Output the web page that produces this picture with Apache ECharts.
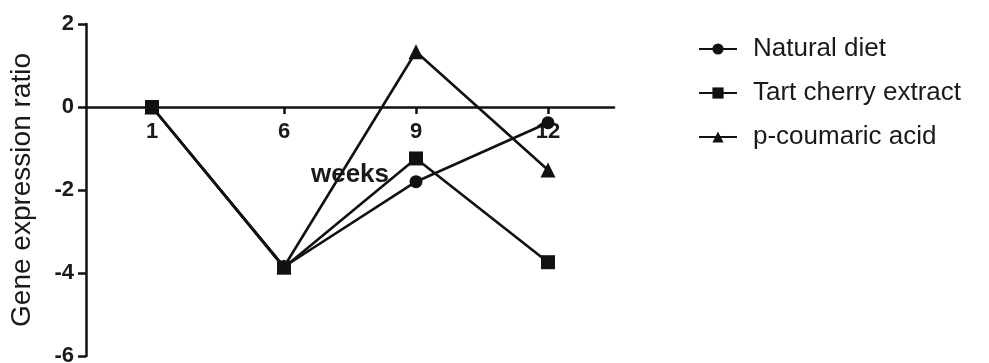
<!DOCTYPE html>
<html>
<head>
<meta charset="utf-8">
<script src="https://cdn.jsdelivr.net/npm/echarts@6/dist/echarts.min.js"></script>
<style>
  html, body { margin: 0; padding: 0; background: #fff; }
  #chart { width: 989px; height: 363px; }
</style>
</head>
<body>
<div id="chart"></div>
<script>
const weeks = ['1', '6', '9', '12']
const naturalDiet = [0, -3.85, -1.8, -0.38]
const tartCherry = [0, -3.87, -1.24, -3.74]
const pCoumaric = [0, -3.85, 1.33, -1.52]
const yTicks = { min: -6, max: 2, interval: 2 }

const FONT = '"Liberation Sans", Arial, sans-serif'
const INK = '#111'

const GRID_TOP = 24
const GRID_BOTTOM = 7
const GRID_H = 363 - GRID_TOP - GRID_BOTTOM
// x axis sits on y = 0, moved up from the grid bottom
const xOffset = -GRID_H * (0 - yTicks.min) / (yTicks.max - yTicks.min)

const chart = echarts.init(document.getElementById('chart'), null, { renderer: 'canvas' })

const lineSeries = (name, data, symbol, size) => ({
  name,
  type: 'line',
  data,
  symbol,
  symbolSize: size,
  lineStyle: { color: INK, width: 2.6 },
  itemStyle: { color: INK },
  animation: false
})

chart.setOption({
  backgroundColor: '#fff',
  textStyle: { fontFamily: FONT },
  grid: { left: 86, top: GRID_TOP, width: 528, bottom: GRID_BOTTOM, containLabel: false, outerBoundsMode: 'none' },
  legend: {
    orient: 'vertical',
    left: 693,
    top: 31,
    itemGap: 18,
    itemWidth: 38,
    itemHeight: 14,
    textStyle: { fontFamily: FONT, fontSize: 26, color: '#1a1a1a', padding: [0, 0, 0, 11] },
    data: ['Natural diet', 'Tart cherry extract', 'p-coumaric acid']
  },
  xAxis: {
    type: 'category',
    data: weeks,
    boundaryGap: true,
    offset: xOffset,
    name: 'weeks',
    nameLocation: 'middle',
    nameGap: 55,
    nameTextStyle: { fontSize: 26, fontWeight: 'bold', color: '#1a1a1a' },
    axisLine: { onZero: false, lineStyle: { color: INK, width: 2.5 } },
    axisTick: { show: true, alignWithLabel: true, length: 7, lineStyle: { color: INK, width: 2.5 } },
    axisLabel: { fontSize: 22, fontWeight: 'bold', color: '#1a1a1a', margin: 14 },
    splitLine: { show: false }
  },
  yAxis: {
    type: 'value',
    min: yTicks.min,
    max: yTicks.max,
    interval: yTicks.interval,
    name: 'Gene expression ratio',
    nameLocation: 'middle',
    nameGap: 50,
    nameTextStyle: { fontSize: 28, color: '#1a1a1a' },
    axisLine: { show: true, onZero: false, lineStyle: { color: INK, width: 2.5 } },
    axisTick: { show: true, length: 8, lineStyle: { color: INK, width: 2.5 } },
    axisLabel: { fontSize: 22, fontWeight: 'bold', color: '#1a1a1a', margin: 12 },
    splitLine: { show: false }
  },
  series: [
    lineSeries('Natural diet', naturalDiet, 'circle', 13),
    lineSeries('Tart cherry extract', tartCherry, 'rect', 14),
    lineSeries('p-coumaric acid', pCoumaric, 'triangle', 15)
  ]
})
</script>
</body>
</html>
